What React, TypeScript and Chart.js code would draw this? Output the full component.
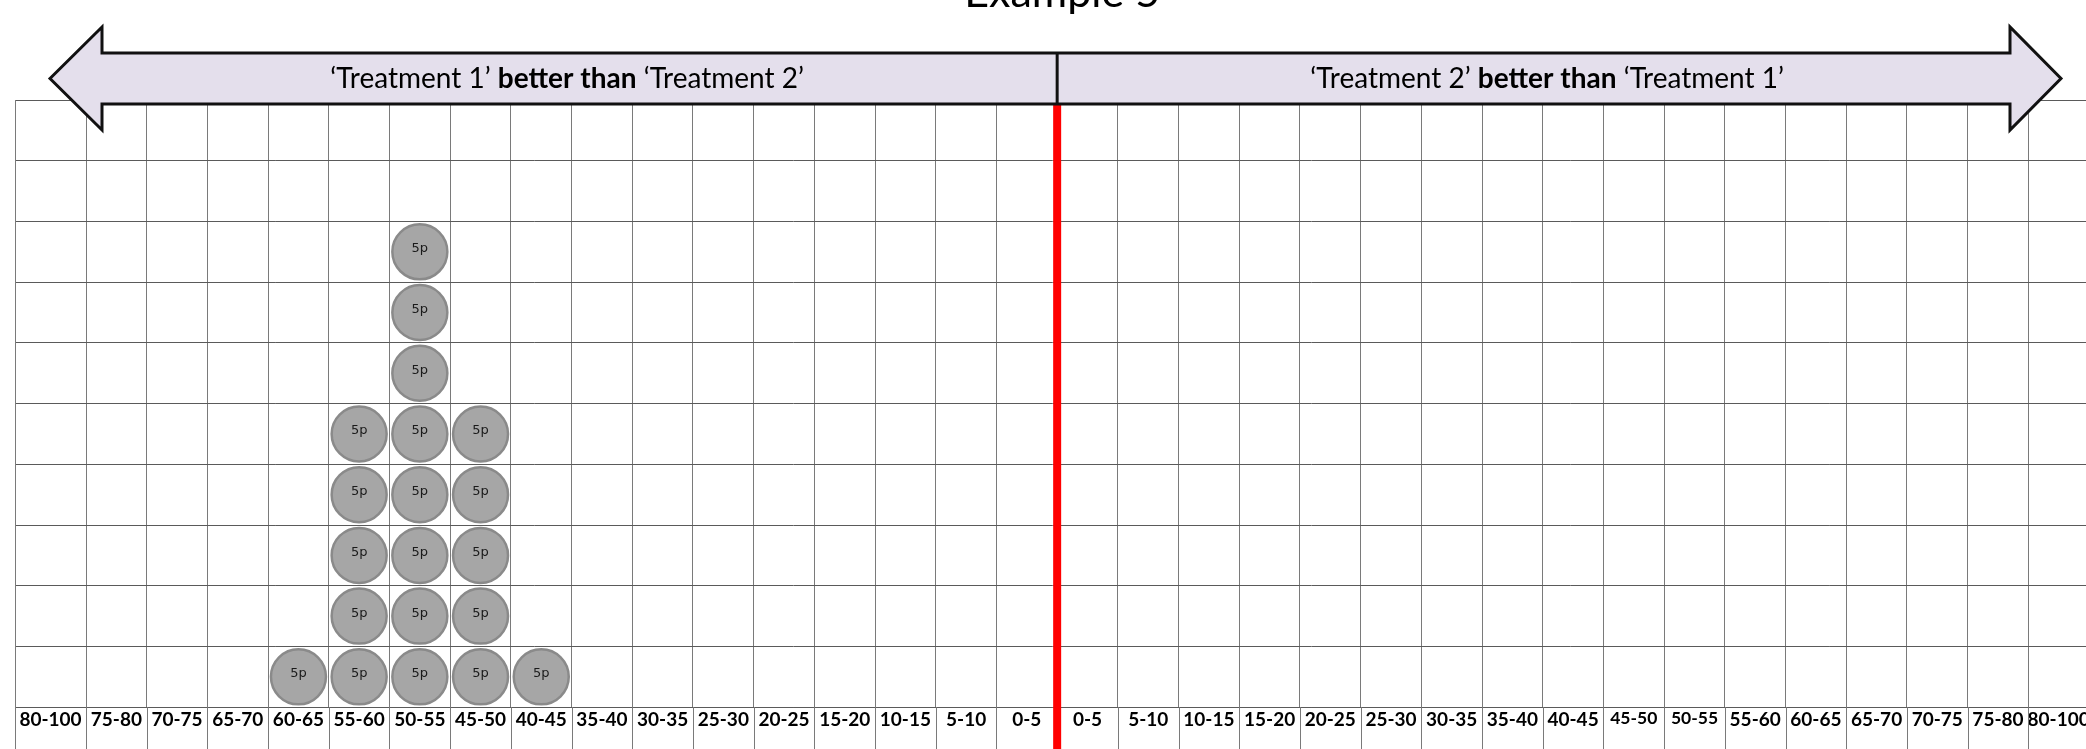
import React, { useEffect, useRef } from 'react';
import { Chart, registerables } from 'chart.js';

Chart.register(...registerables);

// ---------- data ----------
const chartTitle = 'Example 5';
const leftBins = ['80-100', '75-80', '70-75', '65-70', '60-65', '55-60', '50-55', '45-50', '40-45', '35-40', '30-35', '25-30', '20-25', '15-20', '10-15', '5-10', '0-5'];
const rightBins = ['0-5', '5-10', '10-15', '15-20', '20-25', '25-30', '30-35', '35-40', '40-45', '45-50', '50-55', '55-60', '60-65', '65-70', '70-75', '75-80', '80-100'];
// number of "5p" circles (5 patients each) stacked in every bin
const treatment1BetterCircles = [0, 0, 0, 0, 1, 5, 8, 5, 1, 0, 0, 0, 0, 0, 0, 0, 0];
const treatment2BetterCircles = [0, 0, 0, 0, 0, 0, 0, 0, 0, 0, 0, 0, 0, 0, 0, 0, 0];
const circleLabel = '5p';
const leftArrowText = ['‘Treatment 1’ ', 'better than', ' ‘Treatment 2’'];
const rightArrowText = ['‘Treatment 2’ ', 'better than', ' ‘Treatment 1’'];
const rowCount = 10;

// ---------- derived ----------
const categories = [...leftBins, ...rightBins];
const counts = [...treatment1BetterCircles, ...treatment2BetterCircles];
const X_MIN = -0.17; // first column ("80-100") is drawn a little wider
const X_MAX = categories.length;
const colCenter = (i: number) => (i === 0 ? (X_MIN + 1) / 2 : i + 0.5);
const points: { x: number; y: number }[] = [];
counts.forEach((n, i) => {
  for (let r = 0; r < n; r++) points.push({ x: colCenter(i), y: r + 0.5 });
});
const boundaryTicks = [X_MIN, ...categories.map((_, i) => i + 1)];
const centerTicks = categories.map((_, i) => colCenter(i));
const labelByCenter = new Map<number, string>(centerTicks.map((v, i) => [v, categories[i]]));
const isBoundary = (v: number) => v === X_MIN || Number.isInteger(v);
const smallLabelIdx = new Set([leftBins.length + 9, leftBins.length + 10]);

const FONT = 'Lato, "Noto Sans", sans-serif';
const GRID_V = '#7a7a7a';
const GRID_H = '#5a5a5a';

const decorPlugin = {
  id: 'decor',
  beforeDatasetsDraw(chart: any) {
    const { ctx, chartArea } = chart;
    const xs = chart.scales.x;
    // extend the column lines down through the label row
    ctx.save();
    ctx.strokeStyle = GRID_V;
    ctx.lineWidth = 1;
    xs.ticks.forEach((t: any, i: number) => {
      if (!isBoundary(t.value)) return;
      const px = Math.round(xs.getPixelForTick(i)) + 0.5;
      ctx.beginPath();
      ctx.moveTo(px, chartArea.bottom);
      ctx.lineTo(px, chart.height);
      ctx.stroke();
    });
    const div = xs.getPixelForValue(leftBins.length);
    ctx.strokeStyle = '#FF0000';
    ctx.lineWidth = 8;
    ctx.beginPath();
    ctx.moveTo(div, chartArea.top);
    ctx.lineTo(div, chart.height);
    ctx.stroke();
    ctx.restore();
  },
  afterDatasetsDraw(chart: any) {
    const { ctx } = chart;
    const meta = chart.getDatasetMeta(0);
    ctx.save();
    ctx.fillStyle = '#1a1a1a';
    ctx.font = '13px "DejaVu Sans", sans-serif';
    ctx.textAlign = 'center';
    ctx.textBaseline = 'alphabetic';
    meta.data.forEach((el: any) => {
      ctx.fillText(circleLabel, el.x, el.y + 0.5);
    });
    ctx.restore();
  },
  afterDraw(chart: any) {
    const { ctx } = chart;
    const xs = chart.scales.x;
    const div = xs.getPixelForValue(leftBins.length);
    const tipL = 50, backL = 102, backR = 2010, tipR = 2061;
    const headTop = 27, bodyTop = 53, mid = 78.5, bodyBot = 104, headBot = 130;
    ctx.save();
    ctx.beginPath();
    ctx.moveTo(tipL, mid);
    ctx.lineTo(backL, headTop);
    ctx.lineTo(backL, bodyTop);
    ctx.lineTo(backR, bodyTop);
    ctx.lineTo(backR, headTop);
    ctx.lineTo(tipR, mid);
    ctx.lineTo(backR, headBot);
    ctx.lineTo(backR, bodyBot);
    ctx.lineTo(backL, bodyBot);
    ctx.lineTo(backL, headBot);
    ctx.closePath();
    ctx.fillStyle = '#E4DFEC';
    ctx.fill();
    ctx.lineJoin = 'miter';
    ctx.lineWidth = 3;
    ctx.strokeStyle = '#111';
    ctx.stroke();
    ctx.beginPath();
    ctx.moveTo(div, bodyTop);
    ctx.lineTo(div, bodyBot);
    ctx.lineWidth = 3;
    ctx.stroke();

    const drawMixed = (parts: string[], cx: number, y: number) => {
      const size = 28;
      const fonts = [`${size}px ${FONT}`, `bold ${size}px ${FONT}`, `${size}px ${FONT}`];
      const widths = parts.map((p, i) => { ctx.font = fonts[i]; return ctx.measureText(p).width; });
      const total = widths.reduce((a, b) => a + b, 0);
      let x = cx - total / 2;
      ctx.fillStyle = '#000';
      ctx.textAlign = 'left';
      ctx.textBaseline = 'alphabetic';
      parts.forEach((p, i) => { ctx.font = fonts[i]; ctx.fillText(p, x, y); x += widths[i]; });
    };
    drawMixed(leftArrowText, div - 490, 88);
    drawMixed(rightArrowText, div + 490, 88);

    ctx.font = `43px ${FONT}`;
    ctx.fillStyle = '#000';
    ctx.textAlign = 'center';
    ctx.textBaseline = 'alphabetic';
    ctx.fillText(chartTitle, div + 5, 7);
    ctx.restore();
  },
};

export default function App() {
  const canvasRef = useRef<HTMLCanvasElement | null>(null);

  useEffect(() => {
    if (!canvasRef.current) return;
    const chart = new Chart(canvasRef.current, {
      type: 'scatter',
      data: {
        datasets: [
          {
            label: 'patients',
            data: points,
            pointRadius: 27.5,
            pointHoverRadius: 27.5,
            backgroundColor: '#A6A6A6',
            borderColor: '#8A8A8A',
            borderWidth: 2.5,
            clip: false,
          },
        ],
      },
      options: {
        animation: false,
        responsive: true,
        maintainAspectRatio: false,
        events: [],
        layout: { autoPadding: false, padding: { left: 15, right: 11, top: 100, bottom: 48 } },
        plugins: { legend: { display: false }, tooltip: { enabled: false }, title: { display: false } },
        scales: {
          x: {
            type: 'linear',
            min: X_MIN,
            max: X_MAX,
            position: 'bottom',
            afterBuildTicks: (scale: any) => {
              scale.ticks = [...boundaryTicks, ...centerTicks].sort((a, b) => a - b).map((v) => ({ value: v }));
            },
            ticks: {
              autoSkip: false,
              maxRotation: 0,
              minRotation: 0,
              padding: 1,
              color: '#000',
              font: (c: any) => {
                const v = c.tick ? c.tick.value : 0;
                const idx = centerTicks.indexOf(v);
                return { family: FONT, size: smallLabelIdx.has(idx) ? 17.5 : 19, weight: 'bold', lineHeight: 1.2 };
              },
              callback: (v: any) => labelByCenter.get(Number(v)) ?? '',
            },
            grid: {
              color: (c: any) => (c.tick && isBoundary(c.tick.value) ? GRID_V : 'rgba(0,0,0,0)'),
              lineWidth: 1,
              drawTicks: false,
            },
            border: { display: true, color: GRID_H, width: 1 },
          },
          y: {
            type: 'linear',
            min: 0,
            max: rowCount,
            ticks: { display: false, stepSize: 1 },
            grid: { color: GRID_H, lineWidth: 1, drawTicks: false },
            border: { display: true, color: GRID_V, width: 1 },
          },
        },
      },
      plugins: [decorPlugin],
    } as any);
    return () => chart.destroy();
  }, []);

  return (
    <div style={{ position: 'fixed', left: 0, top: 0, width: 2086, height: 749, overflow: 'hidden', background: '#fff' }}>
      <div style={{ position: 'absolute', left: 0, top: 0, width: 2100, height: 780 }}>
        <canvas ref={canvasRef} />
      </div>
    </div>
  );
}
